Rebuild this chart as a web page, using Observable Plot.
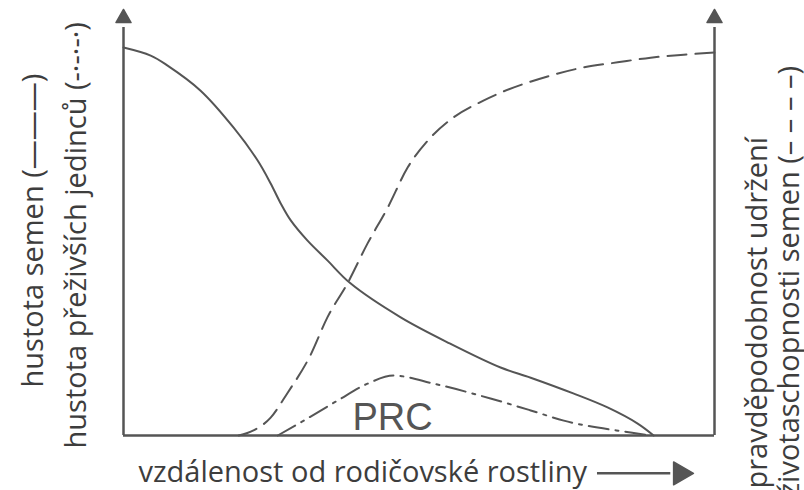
<!DOCTYPE html>
<html>
<head>
<meta charset="utf-8">
<script src="https://cdn.jsdelivr.net/npm/d3@7"></script>
<script src="https://cdn.jsdelivr.net/npm/@observablehq/plot@0.6"></script>
<style>
  html, body { margin: 0; padding: 0; background: #fff; overflow: hidden; }
</style>
</head>
<body>
<div id="chart"></div>
<script>
// distance from parent plant (0–100 relative units)
const seedX = [0, 4.6, 7.4, 13.0, 18.6, 22.7, 24.9, 26.6, 28.3, 31.1, 34.5, 38.4, 46.9, 55.3, 63.8, 68.9, 76.1, 81.9, 87.0, 89.7];
// hustota semen (seed density)
const seedY = [91.3, 89.4, 87.1, 81.2, 72.5, 64.7, 59.3, 54.6, 50.6, 45.9, 41.2, 35.8, 27.8, 21.6, 16.0, 13.6, 9.9, 6.6, 2.8, 0];

// pravděpodobnost udržení životaschopnosti semen (survival probability)
const survX = [19.5, 22.0, 24.9, 27.7, 31.6, 34.5, 37.9, 41.3, 44.7, 48.1, 51.5, 55.8, 60.9, 72.3, 77.8, 83.6, 89.2, 94.8, 100];
const survY = [0, 1.2, 4.2, 9.9, 18.8, 27.8, 35.8, 45.2, 53.6, 63.1, 69.4, 74.8, 78.8, 84.7, 86.6, 87.8, 88.9, 89.6, 90.1];

// hustota přeživších jedinců (PRC)
const prcX = [26.1, 30.5, 36.2, 41.3, 45.7, 52.5, 62.1, 68.9, 74.5, 85.8, 89.2];
const prcY = [0, 3.5, 8.2, 12.2, 14.1, 12.2, 8.7, 5.9, 3.5, 0.7, 0];

const labelLeft1 = "hustota semen (———)";
const labelLeft2 = "hustota přeživších jedinců (-·-·-·)";
const labelRight1 = "pravděpodobnost udržení";
const labelRight2 = "životaschopnosti semen (– – – –)";
const labelBottom = "vzdálenost od rodičovské rostliny";
const labelPRC = "PRC";

const seed = seedX.map((x, i) => ({x, y: seedY[i]}));
const surv = survX.map((x, i) => ({x, y: survY[i]}));
const prc = prcX.map((x, i) => ({x, y: prcY[i]}));

const ink = "#555";
const txt = "#3d3d3d";
const font = "'Open Sans', sans-serif";
const fs = 29;

const chart = Plot.plot({
  width: 804,
  height: 490,
  marginLeft: 123,
  marginRight: 90,
  marginTop: 10,
  marginBottom: 55,
  x: {domain: [0, 100], axis: null},
  y: {domain: [0, 100], axis: null},
  style: {background: "#fff", fontFamily: font},
  marks: [
    // axes
    Plot.ruleY([0], {x1: 0, x2: 100, stroke: ink, strokeWidth: 2.5}),
    Plot.ruleX([0, 100], {y1: 0, y2: 96, stroke: ink, strokeWidth: 2.5}),
    Plot.dot([0, 100], {x: d => d, y: 98.2, symbol: "triangle", r: 5.6, fill: ink, stroke: ink, strokeWidth: 1.5, strokeLinejoin: "round"}),
    // curves
    Plot.line(seed, {x: "x", y: "y", curve: "catmull-rom", stroke: ink, strokeWidth: 2}),
    Plot.line(surv, {x: "x", y: "y", curve: "monotone-x", stroke: ink, strokeWidth: 2, strokeDasharray: "19,9"}),
    Plot.line(prc, {x: "x", y: "y", curve: "monotone-x", stroke: ink, strokeWidth: 2, strokeDasharray: "20,7,3,7"}),
    // PRC label
    Plot.text([labelPRC], {text: d => d, frameAnchor: "bottom-left", dx: 269, dy: -6, textAnchor: "middle", lineAnchor: "bottom", fontSize: 38, fill: ink, fontFamily: "'Liberation Sans', Arial, sans-serif"}),
    // bottom label + arrow
    Plot.text([labelBottom], {text: d => d, frameAnchor: "bottom-left", dx: 15, dy: 46, textAnchor: "start", lineAnchor: "bottom", fontSize: fs, fill: txt}),
    Plot.ruleY([-8.9], {x1: 80.2, x2: 92.6, stroke: ink, strokeWidth: 2.5}),
    Plot.dot([0], {x: 94.2, y: -8.9, symbol: "triangle", rotate: 90, r: 8.5, fill: ink, stroke: ink, strokeWidth: 1.5, strokeLinejoin: "round"}),
    // left labels
    Plot.text([labelLeft1], {text: d => d, frameAnchor: "bottom-left", dx: -81, dy: -48, rotate: -90, textAnchor: "start", lineAnchor: "bottom", fontSize: fs, fill: txt}),
    Plot.text([labelLeft2], {text: d => d, frameAnchor: "bottom-left", dx: -38, dy: 13, rotate: -90, textAnchor: "start", lineAnchor: "bottom", fontSize: fs, fill: txt}),
    // right labels
    Plot.text([labelRight1], {text: d => d, frameAnchor: "bottom-right", dx: 52, dy: 53, rotate: -90, textAnchor: "start", lineAnchor: "bottom", fontSize: fs, fill: txt}),
    Plot.text([labelRight2], {text: d => d, frameAnchor: "bottom-right", dx: 84, dy: 61, rotate: -90, textAnchor: "start", lineAnchor: "bottom", fontSize: fs, fill: txt})
  ]
});
document.getElementById("chart").appendChild(chart);
</script>
</body>
</html>
